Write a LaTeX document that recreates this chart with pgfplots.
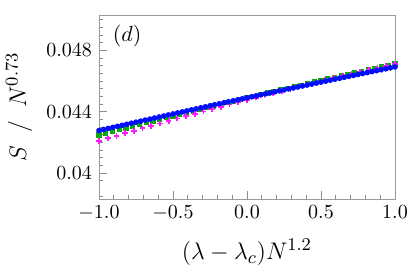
\documentclass[border=0pt]{standalone}
\usepackage{pgfplots}
\pgfplotsset{compat=1.18}
\definecolor{mblue}{rgb}{0,0.05,1}
\definecolor{mgreen}{rgb}{0.05,0.66,0.05}
\definecolor{mmag}{rgb}{1,0.1,1}
\begin{document}
\begin{tikzpicture}
\begin{axis}[
  scale only axis, width=148pt, height=92pt,
  xmin=-1, xmax=1, ymin=0.0383, ymax=0.0503,
  xtick={-1,-0.5,0,0.5,1},
  xticklabels={$-1.0$,$-0.5$,$0.0$,$0.5$,$1.0$},
  minor xtick={-0.9,-0.8,-0.7,-0.6,-0.4,-0.3,-0.2,-0.1,0.1,0.2,0.3,0.4,0.6,0.7,0.8,0.9},
  ytick={0.04,0.044,0.048},
  yticklabels={$0.04$,$0.044$,$0.048$},
  minor ytick={0.0385,0.0395,0.0405,0.041,0.0415,0.042,0.0425,0.043,0.0435,0.0445,0.045,0.0455,0.046,0.0465,0.047,0.0475,0.0485,0.049,0.0495,0.05},
  scaled y ticks=false,
  tick align=inside, xtick pos=bottom, ytick pos=left,
  major tick length=4pt, minor tick length=2pt,
  axis line style={black!40},
  every tick/.style={black!45, line width=0.4pt},
  tick label style={font=\fontsize{10.3}{12}\selectfont},
  xlabel={$(\lambda-\lambda_c)N^{1.2}$},
  ylabel={$S\;\;/\;\;N^{0.73}$},
  label style={font=\fontsize{12.5}{15}\selectfont},
  xlabel style={at={(axis description cs:0.5,-0.29)}, anchor=center},
  ylabel style={at={(axis description cs:-0.27,0.5)}, anchor=center},
  clip=false,
]
\addplot[only marks, mark=square*, mark size=1.05pt, color=mgreen] coordinates {
(-1,0.042480)(-0.954545,0.042594)(-0.909091,0.042708)(-0.863636,0.042821)(-0.818182,0.042934)(-0.772727,0.043046)(-0.727273,0.043159)(-0.681818,0.043271)(-0.636364,0.043382)(-0.590909,0.043493)(-0.545455,0.043604)(-0.5,0.043713)(-0.454545,0.043823)(-0.409091,0.043933)(-0.363636,0.044042)(-0.318182,0.044150)(-0.272727,0.044259)(-0.227273,0.044367)(-0.181818,0.044474)(-0.136364,0.044581)(-0.090909,0.044688)(-0.045455,0.044794)(0,0.044900)(0.045455,0.045005)(0.090909,0.045110)(0.136364,0.045215)(0.181818,0.045319)(0.227273,0.045424)(0.272727,0.045527)(0.318182,0.045630)(0.363636,0.045733)(0.409091,0.045835)(0.454545,0.045937)(0.5,0.046039)(0.545455,0.046140)(0.590909,0.046241)(0.636364,0.046341)(0.681818,0.046441)(0.727273,0.046541)(0.772727,0.046640)(0.818182,0.046739)(0.863636,0.046837)(0.909091,0.046935)(0.954545,0.047033)(1,0.047130)
};
\addplot[only marks, mark=+, mark size=1.4pt, mark options={line width=0.9pt}, color=mmag] coordinates {
(-1,0.042090)(-0.941176,0.042256)(-0.882353,0.042420)(-0.823529,0.042585)(-0.764706,0.042747)(-0.705882,0.042908)(-0.647059,0.043069)(-0.588235,0.043229)(-0.529412,0.043386)(-0.470588,0.043544)(-0.411765,0.043699)(-0.352941,0.043854)(-0.294118,0.044008)(-0.235294,0.044160)(-0.176471,0.044312)(-0.117647,0.044463)(-0.058824,0.044611)(0,0.044760)(0.058824,0.044907)(0.117647,0.045053)(0.176471,0.045198)(0.235294,0.045342)(0.294118,0.045484)(0.352941,0.045626)(0.411765,0.045766)(0.470588,0.045906)(0.529412,0.046044)(0.588235,0.046181)(0.647059,0.046317)(0.705882,0.046452)(0.764706,0.046585)(0.823529,0.046719)(0.882353,0.046850)(0.941176,0.046980)(1,0.047110)
};
\addplot[only marks, mark=*, mark size=1.2pt, color=mblue, mark options={draw=mblue}] coordinates {
(-1,0.042765)(-0.96875,0.042834)(-0.9375,0.042902)(-0.90625,0.042971)(-0.875,0.043038)(-0.84375,0.043106)(-0.8125,0.043174)(-0.78125,0.043242)(-0.75,0.043310)(-0.71875,0.043378)(-0.6875,0.043446)(-0.65625,0.043512)(-0.625,0.043580)(-0.59375,0.043647)(-0.5625,0.043714)(-0.53125,0.043781)(-0.5,0.043847)(-0.46875,0.043914)(-0.4375,0.043981)(-0.40625,0.044047)(-0.375,0.044114)(-0.34375,0.044180)(-0.3125,0.044246)(-0.28125,0.044311)(-0.25,0.044377)(-0.21875,0.044443)(-0.1875,0.044509)(-0.15625,0.044575)(-0.125,0.044640)(-0.09375,0.044705)(-0.0625,0.044770)(-0.03125,0.044835)(0,0.044900)(0.03125,0.044965)(0.0625,0.045030)(0.09375,0.045094)(0.125,0.045158)(0.15625,0.045223)(0.1875,0.045287)(0.21875,0.045351)(0.25,0.045415)(0.28125,0.045479)(0.3125,0.045542)(0.34375,0.045606)(0.375,0.045670)(0.40625,0.045733)(0.4375,0.045796)(0.46875,0.045860)(0.5,0.045923)(0.53125,0.045986)(0.5625,0.046048)(0.59375,0.046111)(0.625,0.046174)(0.65625,0.046236)(0.6875,0.046298)(0.71875,0.046360)(0.75,0.046422)(0.78125,0.046484)(0.8125,0.046546)(0.84375,0.046608)(0.875,0.046669)(0.90625,0.046730)(0.9375,0.046792)(0.96875,0.046853)(1,0.046915)
};
\node at (axis cs:-0.81,0.04891) {\fontsize{10.5}{12}\selectfont$(d)$};
\end{axis}
\pgfresetboundingbox
\path (current axis.south west) ++(-49.5pt,-40pt) rectangle ([xshift=6pt,yshift=7.5pt]current axis.north east);
\end{tikzpicture}
\end{document}
